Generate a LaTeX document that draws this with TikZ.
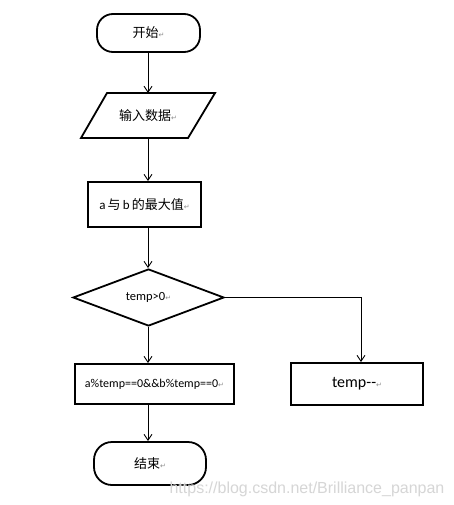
\documentclass[tikz,border=0pt]{standalone}
\usepackage{fontspec}
\setmainfont{Carlito}
\newfontfamily\cjk{Noto Sans CJK SC}
\newfontfamily\symf{DejaVu Sans}
\newfontfamily\wmf{Liberation Sans}
\usetikzlibrary{arrows.meta,shapes.geometric}
\newcommand\retmark{{\symf\color{black!45}\fontsize{7}{7}\selectfont ↵}}
\begin{document}
\begin{tikzpicture}[x=1pt,y=-1pt,
  shapeline/.style={draw=black,line width=1.8pt},
  term/.style={shapeline,rectangle,inner sep=0pt},
  procbox/.style={shapeline,rectangle,inner sep=0pt},
  conn/.style={draw=black,line width=0.9pt,-{Straight Barb[length=6pt,width=8pt,line width=0.9pt]}},
  cjktext/.style={font=\cjk\fontsize{13}{15}\selectfont}
]
\useasboundingbox (0,0) rectangle (453,505);
\fill[white] (0,0) rectangle (453,505);
\coordinate (ax) at (148,0);
\coordinate (axr) at (361,0);

% start
\node[term,rounded corners=16pt,minimum width=103pt,minimum height=38pt,cjktext] (start) at (148.5,33) {开始\retmark};

% input parallelogram
\coordinate (p1) at (107,93);
\coordinate (p2) at (215,93);
\coordinate (p3) at (188,138);
\coordinate (p4) at (81,138);
\draw[shapeline,line join=miter] (p1) -- (p2) -- (p3) -- (p4) -- cycle;
\coordinate (ptop) at (148,93);
\coordinate (pbot) at (148,138);
\node[cjktext] (inp) at (148,115.5) {输入数据\retmark};

% max box
\node[procbox,minimum width=113pt,minimum height=45pt] (maxb) at (144.5,204.5)
  {\fontsize{13}{15}\selectfont a\,{\cjk 与}\,b\,{\cjk 的最大值}\retmark};

% diamond
\node[shapeline,diamond,aspect=2.65,inner sep=0pt,minimum width=151pt,minimum height=57pt] (dec) at (148.5,297.5)
  {\fontsize{12.5}{14}\selectfont temp>0\retmark};

% boxes
\node[procbox,minimum width=159pt,minimum height=40pt] (gcd) at (154.5,384)
  {\fontsize{12}{14}\selectfont a\%temp==0\&\&b\%temp==0\retmark};
\node[procbox,minimum width=132pt,minimum height=42pt] (dec2) at (357,384)
  {\fontsize{16}{18}\selectfont temp\mbox{-}\mbox{-}\retmark};

% end
\node[term,rounded corners=18pt,minimum width=112pt,minimum height=43pt,cjktext] (stop) at (150,463.5) {结束\retmark};

% connectors
\draw[conn] (start.south -| ax) -- (ptop);
\draw[conn] (pbot) -- (maxb.north -| ax);
\draw[conn] (maxb.south -| ax) -- (dec.north -| ax);
\draw[conn] (dec.south -| ax) -- (gcd.north -| ax);
\draw[conn] (dec.east) -| (dec2.north -| axr);
\draw[conn] (gcd.south -| ax) -- (stop.north -| ax);

% watermark
\node[font=\wmf\fontsize{16}{18}\selectfont,text=black!16] (wm) at (307,489) {https://blog.csdn.net/Brilliance\_panpan};
\end{tikzpicture}
\end{document}
